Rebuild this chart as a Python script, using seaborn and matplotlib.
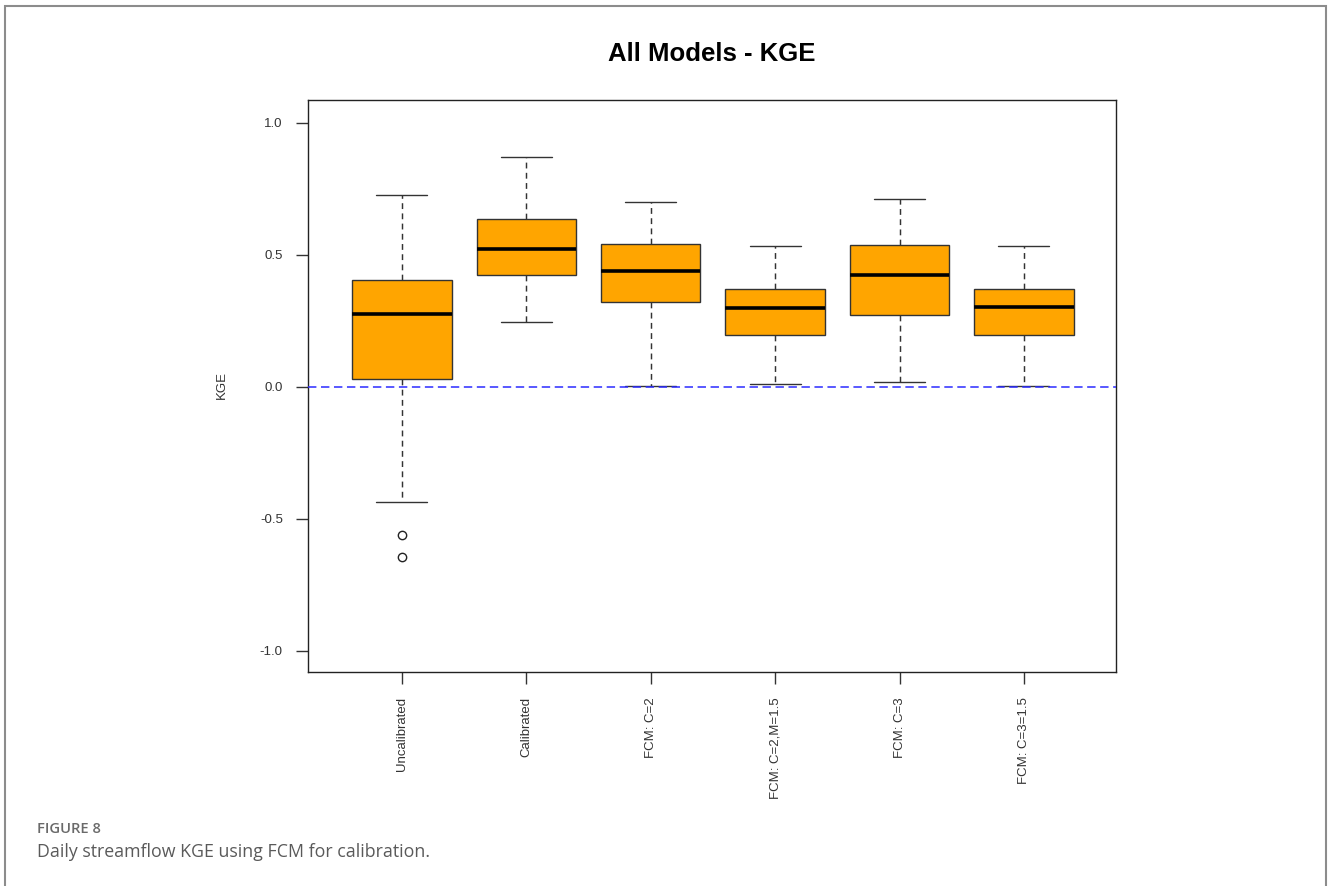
import matplotlib
matplotlib.use("Agg")
import matplotlib.pyplot as plt
from matplotlib.patches import Rectangle
import seaborn as sns

# Box statistics of daily streamflow KGE for each model setup
models = ["Uncalibrated", "Calibrated", "FCM: C=2", "FCM: C=2,M=1.5",
          "FCM: C=3", "FCM: C=3=1.5"]
whisker_low = [-0.438, 0.245, 0.004, 0.011, 0.017, 0.004]
q1 = [0.030, 0.424, 0.322, 0.195, 0.273, 0.195]
median = [0.274, 0.523, 0.439, 0.298, 0.424, 0.303]
q3 = [0.404, 0.634, 0.542, 0.371, 0.537, 0.371]
whisker_high = [0.726, 0.869, 0.698, 0.532, 0.712, 0.532]
outliers = [[-0.561, -0.644], [], [], [], [], []]

y_ticks = [-1.0, -0.5, 0.0, 0.5, 1.0]
y_tick_labels = ["-1.0", "-0.5", "0.0", "0.5", "1.0"]

sns.set_theme(style="white")
plt.rcParams["font.family"] = ["Liberation Sans", "DejaVu Sans"]

W, H = 1328, 886
fig = plt.figure(figsize=(W / 100, H / 100), dpi=100)
ax = fig.add_axes([308 / W, 1 - 672 / H, (1116 - 308) / W, (672 - 100) / H])

stats = [
    dict(label=m, whislo=lo, q1=a, med=md, q3=b, whishi=hi, fliers=fl)
    for m, lo, a, md, b, hi, fl in zip(models, whisker_low, q1, median, q3,
                                       whisker_high, outliers)
]
positions = list(range(1, len(models) + 1))
edge = "#333333"
ax.bxp(
    stats, positions=positions, widths=0.8, capwidths=0.41, patch_artist=True,
    boxprops=dict(facecolor="#FFA500", edgecolor=edge, linewidth=1.0),
    medianprops=dict(color="black", linewidth=2.6, solid_capstyle="butt"),
    whiskerprops=dict(color=edge, linewidth=1.05, linestyle=(0, (4, 3))),
    capprops=dict(color=edge, linewidth=1.0),
    flierprops=dict(marker="o", markerfacecolor="none", markeredgecolor="#222222",
                    markersize=6, markeredgewidth=1.0),
)

# reference line at KGE = 0
ax.axhline(0, color="#2b2bff", linewidth=1.1, linestyle=(0, (5.5, 3)), zorder=5)

ax.set_xlim(0.245, 6.74)
ax.set_ylim(-1.081, 1.086)
ax.set_yticks(y_ticks)
ax.set_yticklabels(y_tick_labels)
ax.set_xticks(positions)
ax.set_xticklabels(models, rotation=90, va="top", ha="center")
ax.tick_params(axis="both", direction="out", length=8.6, width=1.0, pad=9.5,
               color=edge, labelsize=9.5, labelcolor="#333333",
               left=True, bottom=True)
for s in ax.spines.values():
    s.set_color("#222222")
    s.set_linewidth(1.0)
ax.grid(False)

fig.text(222 / W, 1 - 385 / H, "KGE", rotation=90, ha="center", va="center",
         fontsize=9.5, color="#333333")
ax.set_title("All Models - KGE", fontsize=18.5, fontweight="bold",
             color="black", pad=28)

# outer panel frame and caption
fig.add_artist(Rectangle((4.5 / W, -0.05), (1326 - 4.5) / W, 1.05 - 6 / H,
                         transform=fig.transFigure, fill=False,
                         edgecolor="#8c8c8c", linewidth=1.5))
fig.text(37 / W, 1 - 833 / H, "FIGURE 8", ha="left", va="baseline",
         fontsize=10.6, fontweight="semibold", color="#6a6a6a",
         family=["Open Sans", "DejaVu Sans"])
fig.text(37 / W, 1 - 857 / H, "Daily streamflow KGE using FCM for calibration.",
         ha="left", va="baseline", fontsize=12.8, color="#5a5a5a",
         family=["Open Sans", "DejaVu Sans"])

fig.savefig("out.png", dpi=100)
